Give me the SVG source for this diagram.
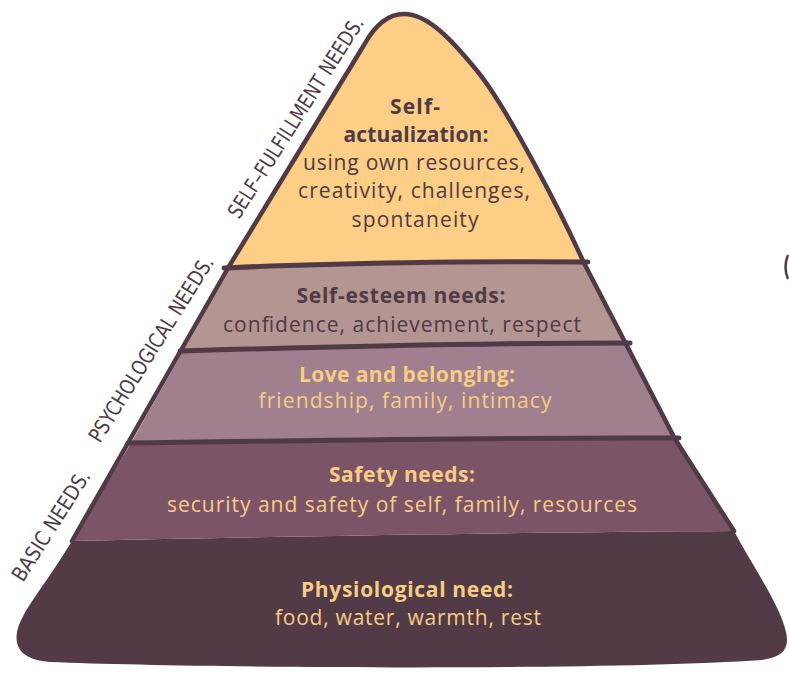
<svg xmlns="http://www.w3.org/2000/svg" width="789" height="673" viewBox="0 0 789 673">
  <style>
    .edge { fill: none; stroke: #4F3A45; stroke-width: 4.5; stroke-linecap: round; stroke-linejoin: round; }
    .div { fill: none; stroke: #4F3A45; stroke-width: 5; stroke-linecap: round; }
    .t { font-family: "Open Sans", "Noto Sans", "Liberation Sans", sans-serif; font-size: 21px; text-anchor: middle; }
    .b { font-weight: bold; }
    .dark { fill: #4F3A45; }
    .light { fill: #F6CD83; }
    .side { font-family: "DejaVu Sans Condensed", "DejaVu Sans", "Liberation Sans", sans-serif; font-stretch: condensed; font-weight: 300; font-size: 21px; fill: #4F3A45; }
  </style>
  <rect width="789" height="673" fill="#FFFFFF"/>

  <g id="layer-physiological">
    <path d="M 72,541 C 300,536 550,532 734,531 C 755,570 780,605 786,632 C 790,650 782,657 762,660 C 600,671 200,668 50,662 C 25,660 14,650 17,632 C 22,610 42,590 72,541 Z" fill="#523A46"/>
    <text class="t b light" x="407" y="597" textLength="212">Physiological need:</text>
    <text class="t light" x="408" y="625" textLength="266">food, water, warmth, rest</text>
  </g>

  <g id="layer-safety">
    <path d="M 131,443 C 300,441 500,437 675,439 L 734,531 C 550,532 300,536 72,541 Z" fill="#7C5467"/>
    <text class="t b light" x="402" y="482" textLength="146">Safety needs:</text>
    <text class="t light" x="402" y="512" textLength="470">security and safety of self, family, resources</text>
  </g>

  <g id="layer-love">
    <path d="M 183,351 C 350,346 500,343 626,344 L 675,439 C 500,437 300,441 131,443 Z" fill="#A07F8F"/>
    <text class="t b light" x="407" y="382" textLength="216">Love and belonging:</text>
    <text class="t light" x="405" y="408" textLength="293">friendship, family, intimacy</text>
  </g>

  <g id="layer-esteem">
    <path d="M 228,268 C 330,263 480,261 584,263 L 626,344 C 500,343 350,346 183,351 Z" fill="#B39592"/>
    <text class="t b dark" x="401" y="303" textLength="209">Self-esteem needs:</text>
    <text class="t dark" x="402" y="332" textLength="358">confidence, achievement, respect</text>
  </g>

  <g id="layer-self-actualization">
    <path d="M 228,268 L 364,45 C 375,25 388,14 404,14 C 428,14 452,40 478,72 C 507,108 560,210 584,263 C 480,261 330,263 228,268 Z" fill="#FDCE85"/>
    <text class="t b dark" x="415" y="114" textLength="50">Self-</text>
    <text class="t b dark" x="416" y="142" textLength="145">actualization:</text>
    <text class="t dark" x="414" y="170" textLength="222">using own resources,</text>
    <text class="t dark" x="414" y="198" textLength="232">creativity, challenges,</text>
    <text class="t dark" x="415" y="227" textLength="127">spontaneity</text>
  </g>

  <g id="connectors">
    <path class="edge" d="M 72,541 L 228,268 L 364,45 C 375,25 388,14 404,14 C 428,14 452,40 478,72 C 507,108 560,210 584,263 L 626,344 L 675,439 L 734,531"/>
    <path class="div" d="M 224,268 C 330,263 480,261 588,262"/>
    <path class="div" d="M 180,351 C 350,346 500,343 630,343"/>
    <path class="div" d="M 128,443 C 300,441 500,437 679,438"/>
    <path d="M 788,255 Q 783,267 788,279" fill="none" stroke="#4F3A45" stroke-width="2.5"/>
  </g>

  <g id="side-labels">
    <text class="side" transform="translate(239,220) rotate(-57.5)" textLength="234" lengthAdjust="spacingAndGlyphs">SELF–FULFILLMENT NEEDS.</text>
    <text class="side" transform="translate(100,444) rotate(-57.8)" textLength="215" lengthAdjust="spacingAndGlyphs">PSYCHOLOGICAL NEEDS.</text>
    <text class="side" transform="translate(23,583) rotate(-57.5)" textLength="127" lengthAdjust="spacingAndGlyphs">BASIC NEEDS.</text>
  </g>
</svg>
